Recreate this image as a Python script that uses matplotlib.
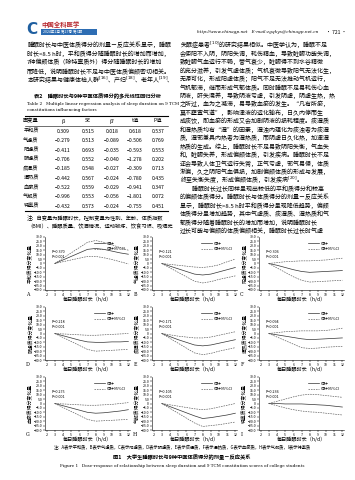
import matplotlib
matplotlib.use("Agg")
import matplotlib.pyplot as plt
from matplotlib.patches import Rectangle
from matplotlib.lines import Line2D

plt.rcParams['font.family'] = ['Noto Sans CJK SC', 'DejaVu Sans']
plt.rcParams['axes.unicode_minus'] = False

W, H = 355, 480

# ---- 表2 数据 ----
const_names = ['平和质', '气虚质', '阳虚质', '阴虚质', '痰湿质', '湿热质', '血瘀质', '气郁质', '特禀质']
beta = [0.309, -0.279, -0.411, -0.706, -0.185, -0.442, -0.522, -0.996, -0.432]
se = [0.515, 0.513, 0.693, 0.552, 0.548, 0.567, 0.559, 0.553, 0.573]
beta_std = [0.018, -0.089, -0.035, -0.040, -0.027, -0.024, -0.029, -0.056, -0.024]
t_vals = [0.618, -0.506, -0.593, -1.278, -0.309, -0.780, -0.941, -1.801, -0.755]
p_vals = [0.537, 0.769, 0.553, 0.202, 0.713, 0.435, 0.347, 0.072, 0.451]

# ---- 图1 数据（剂量-反应曲线） ----
hours = [3, 4, 5, 6, 7, 8, 9, 10, 11, 12]
est_A = [0, 4, 8, 12, 16, 17, 16, 14, 12, 10.5]
lo_A = [0, 2, 4, 6, 8, 8, 6.5, 4.5, 2, -0.5]
hi_A = [0, 6, 12, 18, 24, 26, 24, 21, 18, 15]
est_B = [0, -3, -6, -9, -12, -13, -12, -9.5, -7, -4.5]
lo_B = [0, -5, -10, -15, -20, -22, -20.5, -18, -16, -14]
hi_B = [0, -1, -2, -3, -4, -4.5, -3.5, -1.5, 2, 5]
est_C = [0, -2, -4.5, -7, -9, -10, -9.5, -9, -8.5, -8]
lo_C = [0, -5, -10, -15, -19, -21, -20.5, -20, -19.5, -19]
hi_C = [0, 1, 2, 2.5, 3, 3, 3.5, 4, 5, 6]
est_D = [0, -2.5, -5, -7.5, -9.5, -10, -10, -9.5, -9.5, -9]
lo_D = [0, -4.5, -9, -13.5, -18, -20, -19.5, -19, -18.5, -18]
hi_D = [0, -0.5, -1, -1.5, -2, -2, -1.5, -1, -0.5, 0]
est_E = [0, -3.5, -7, -10, -13, -14, -13, -11, -9, -7]
lo_E = [0, -5.5, -11, -16.5, -22, -24, -22.5, -20, -18, -16]
hi_E = [0, -1.5, -3, -4, -5, -5, -4, -2, 0, 2]
est_F = [0, -1.5, -3, -4.5, -6, -7, -6.5, -6, -5.5, -5]
lo_F = [0, -4, -8, -12, -16, -17, -16.5, -15.5, -15, -14.5]
hi_F = [0, 1, 2, 2.5, 3, 3, 3, 3.5, 4.5, 6]
est_G = [0, -2.5, -5, -7.5, -10, -11, -10.5, -9.5, -8.5, -7]
lo_G = [0, -4.5, -9, -13.5, -18, -20, -19.5, -19, -18.5, -18]
hi_G = [0, -0.5, -1, -1.5, -2, -2, -1.5, -1, 0, 1]
est_H = [0, -3.5, -7, -10.5, -14, -17, -16, -14.5, -13, -11]
lo_H = [0, -5.5, -11, -16.5, -22, -26, -25, -24, -22.5, -21]
hi_H = [0, -1.5, -3, -4.5, -6, -7, -6, -4, -2, 0]
est_I = [0, 0, -0.5, -0.5, -0.5, -1, -1.5, -2, -3, -4]
lo_I = [0, -2.5, -5, -7, -8.5, -9.5, -10, -11, -12, -13]
hi_I = [0, 2.5, 5, 7.5, 9.5, 10.5, 10, 9, 8, 7]
p_nonlinear = ['0.370', '0.121', '0.306', '0.218', '0.171', '0.094', '0.275', '0.105', '0.236']
y_ticks = [30, 25, 20, 15, 10, 5, 0, -5, -10, -15, -20, -25, -30]
x_ticks = [2, 3, 4, 5, 6, 7, 8, 9, 10, 11, 12]

left_lines = [
    "睡眠时长与中医体质得分的剂量－反应关系显示，睡眠",
    "时长<8.5 h时，平和质得分随睡眠时长的增加而增加，",
    "7种偏颇体质（除特禀质外）得分随睡眠时长的增加",
    "而降低，说明睡眠时长不足与中医体质偏颇密切相关。",
    "本研究结果与健康体检人群$^{[16]}$、产妇$^{[18]}$、老年人$^{[19]}$、",
]
right_lines = [
    "失眠症患者$^{[10]}$的研究结果相似。中医学认为，睡眠不足",
    "会使阳不入阴，阴阳失调，耗伤精血，导致脏腑功能失调，",
    "致脏腑气血运行不畅，营气衰少，脏腑得不到水谷精微",
    "的充分滋养，引发气虚体质；气机衰微导致阳气无法化生，",
    "无源可化，形成阳虚体质；阳气不足无法推动气机运行，",
    "气机郁滞，继而形成气郁体质。同时睡眠不足易耗伤心血",
    "阴液，肝失濡养，导致阴液亏虚，引发阴虚，阴虚生热，热",
    "之所过，血为之凝滞，易导致血瘀的发生。“凡有所瘀，",
    "莫不壅塞气道”，影响津液的运化输布，日久内停而生",
    "成痰饮，即血瘀的形成又会加剧阴液的损耗程度。痰湿质",
    "和湿热质均有“湿”的因素，湿浊内蕴化为痰浊者为痰湿",
    "质，湿邪兼具内热者为湿热质，而阴虚日久化热，加速湿",
    "热质的生成。综上，睡眠时长不足易致阴阳失衡，气血失",
    "和，脏腑失养，形成偏颇体质，引发疾病。睡眠时长不足",
    "还会导致人体卫气运行失常，正气亏虚，邪气易侵，体质",
    "渐偏，久之阴阳气血俱损，加剧偏颇体质的形成与发展，",
    "终至失衡失度，形成偏颇体质，引发疾病$^{[20]}$。",
    "　　睡眠时长过长同样呈现出较低的平和质得分和较高",
    "的偏颇体质得分。睡眠时长与体质得分的剂量－反应关系",
    "显示，睡眠时长>8.5 h时平和质得分呈现降低趋势，偏颇",
    "体质得分呈增加趋势，其中气虚质、痰湿质、湿热质和气",
    "郁质得分随着睡眠时长的增加而增加，说明睡眠时长",
    "过长可能与偏颇的体质偏颇相关，睡眠时长过长时气虚",
]


def fx(x):
    return x / W


def fy(y):
    return 1 - y / H


def fmt(v):
    return f"{v:.3f}".replace('-', '−')


fig = plt.figure(figsize=(W / 100, H / 100), dpi=100)
fig.patch.set_facecolor('white')

# ---- 页眉 ----
fig.text(fx(26), fy(29), "C", fontsize=11, color='#1f5fa0', fontweight='bold',
         va='center', ha='left', family='DejaVu Sans')
fig.text(fx(41), fy(25), "中国全科医学", fontsize=4.6, color='#b8282e',
         fontweight='bold', va='center', ha='left')
fig.patches.append(Rectangle((fx(41), fy(35)), fx(56), 6 / H, transform=fig.transFigure,
                             facecolor='#2d6db3', edgecolor='none'))
fig.text(fx(43), fy(32), "2024年2月 第27卷 第6期", fontsize=2.6, color='white',
         va='center', ha='left')
fig.text(fx(197), fy(32), "http://www.chinagp.net   E-mail:zgqkyx@chinagp.net.cn",
         fontsize=3.1, style='italic', va='center', ha='left', family='DejaVu Serif')
fig.text(fx(347), fy(32), "· 721 ·", fontsize=3.6, va='center', ha='right')

body_fs = 4.3
for i, s in enumerate(left_lines):
    fig.text(fx(27), fy(45 + 8.8 * i), s, fontsize=body_fs, va='center', ha='left')
for i, s in enumerate(right_lines):
    fig.text(fx(180), fy(45 + 8.45 * i), s, fontsize=body_fs, va='center', ha='left')

# ---- 表2 ----
fig.text(fx(97), fy(96), "表2　睡眠时长与9种中医体质得分的多元线性回归分析",
         fontsize=3.8, fontweight='bold', va='center', ha='center')
fig.text(fx(27), fy(103.5), "Table 2   Multiple linear regression analysis of sleep duration on 9 TCM",
         fontsize=3.0, va='center', ha='left', family='DejaVu Serif')
fig.text(fx(27), fy(110), "constitutions influencing factors",
         fontsize=3.0, va='center', ha='left', family='DejaVu Serif')
for yy, lw in [(115.5, 0.8), (126, 0.4), (211, 0.8)]:
    fig.add_artist(Line2D([fx(25), fx(168)], [fy(yy), fy(yy)], color='black', lw=lw))
col_x = [31, 63, 88, 112, 135, 158]
headers = ["因变量", "β", "SE", "β'", "t值", "P值"]
for cx, h in zip(col_x, headers):
    fig.text(fx(cx), fy(121), h, fontsize=3.8, va='center', ha='center')
for i, name in enumerate(const_names):
    yy = fy(131.5 + 9.35 * i)
    vals = [name, fmt(beta[i]), fmt(se[i]), fmt(beta_std[i]), fmt(t_vals[i]), fmt(p_vals[i])]
    for cx, v in zip(col_x, vals):
        fig.text(fx(cx), yy, v, fontsize=3.7, va='center', ha='center')
fig.text(fx(27), fy(218), "注：自变量为睡眠时长，控制变量为性别、年龄、体质指数",
         fontsize=3.8, va='center', ha='left')
fig.text(fx(27), fy(226.5), "（BMI）、睡眠质量、饮酒情况、运动锻炼、饮食习惯、吸烟史",
         fontsize=3.8, va='center', ha='left')

# ---- 图1 ----
panels = [
    ('A', '平和质', est_A, lo_A, hi_A),
    ('B', '气虚质', est_B, lo_B, hi_B),
    ('C', '阳虚质', est_C, lo_C, hi_C),
    ('D', '阴虚质', est_D, lo_D, hi_D),
    ('E', '痰湿质', est_E, lo_E, hi_E),
    ('F', '湿热质', est_F, lo_F, hi_F),
    ('G', '血瘀质', est_G, lo_G, hi_G),
    ('H', '气郁质', est_H, lo_H, hi_H),
    ('I', '特禀质', est_I, lo_I, hi_I),
]
col_left = [45, 152, 259]
row_top = [237, 307, 377]
ax_w, ax_h = 85, 53

for k, (letter, cname, est, lo, hi) in enumerate(panels):
    r, c = divmod(k, 3)
    L, T = col_left[c], row_top[r]
    ax = fig.add_axes([fx(L), fy(T + ax_h), ax_w / W, ax_h / H])
    ax.plot(hours, est, color='#333333', lw=0.5, label='估计')
    ax.plot(hours, hi, color='#555555', lw=0.45, ls=(0, (2.5, 1.5)), label='估计95%CI')
    ax.plot(hours, lo, color='#555555', lw=0.45, ls=(0, (2.5, 1.5)))
    ax.set_xlim(1.8, 12.2)
    ax.set_ylim(-30, 30)
    ax.set_yticks(y_ticks)
    ax.set_yticklabels(['0' if v == 0 else f"{v:.1f}".replace('-', '−') for v in y_ticks])
    ax.set_xticks(x_ticks)
    ax.tick_params(labelsize=2.5, length=1.2, width=0.35, pad=0.8)
    for s in ['top', 'right']:
        ax.spines[s].set_visible(False)
    for s in ['left', 'bottom']:
        ax.spines[s].set_linewidth(0.4)
    ax.text(0.08, 0.76, f"P={p_nonlinear[k]}\nP<0.001", transform=ax.transAxes,
            fontsize=2.7, va='top', ha='left', linespacing=1.4, style='italic')
    ax.legend(loc='upper right', fontsize=2.8, frameon=False, handlelength=3,
              handletextpad=0.5, borderaxespad=0.5, labelspacing=0.4,
              bbox_to_anchor=(1.0, 0.98))
    fig.text(fx(L - 14), fy(T + ax_h / 2), f"{cname}得分变化量", rotation=90,
             fontsize=3.5, va='center', ha='center')
    fig.text(fx(L + ax_w / 2), fy(T + ax_h + 9.5), "每日睡眠时长（h/d）",
             fontsize=3.7, va='center', ha='center')
    fig.text(fx(L - 17), fy(T + ax_h + 5), letter, fontsize=3.4, va='center',
             ha='center', family='DejaVu Serif')

fig.text(fx(182), fy(448), "注：A表示平和质，B表示气虚质，C表示阳虚质，D表示阴虚质，E表示痰湿质，"
         "F表示湿热质，G表示血瘀质，H表示气郁质，I表示特禀质",
         fontsize=3.1, va='center', ha='center')
fig.text(fx(182), fy(457), "图1　大学生睡眠时长与9种中医体质得分的剂量－反应关系",
         fontsize=3.8, fontweight='bold', va='center', ha='center')
fig.text(fx(182), fy(466), "Figure 1   Dose-response of relationship between sleep duration "
         "and 9 TCM constitution scores of college students",
         fontsize=3.0, va='center', ha='center', family='DejaVu Serif')

fig.savefig("out.png", dpi=100, facecolor='white')
